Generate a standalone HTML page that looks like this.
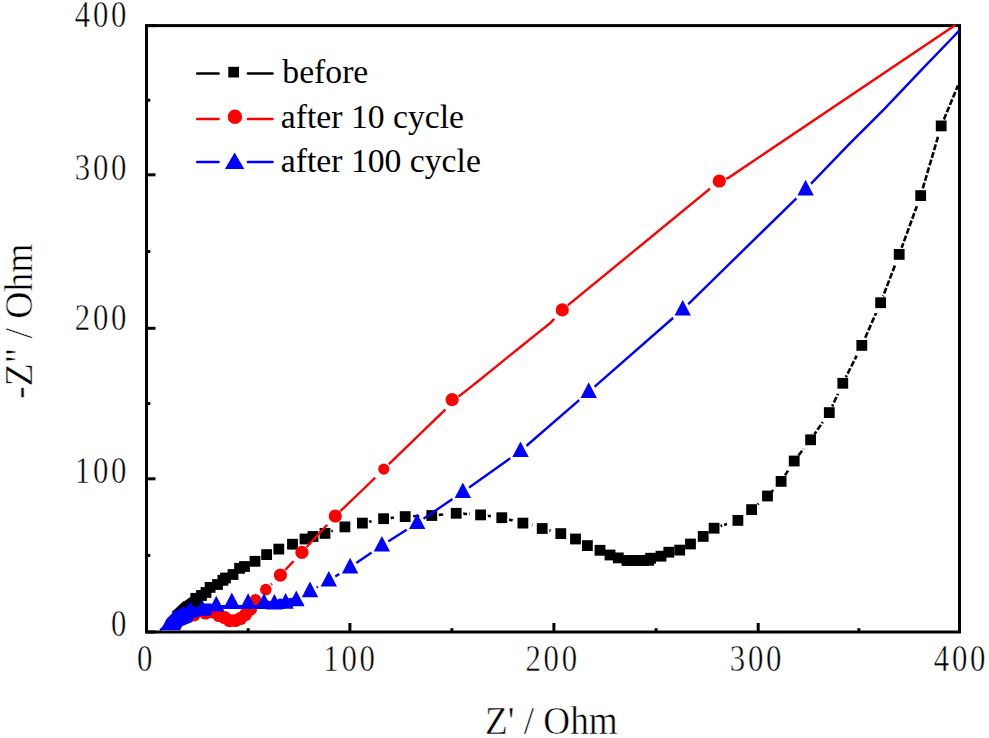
<!DOCTYPE html>
<html><head><meta charset="utf-8"><title>Nyquist plot</title>
<style>html,body{margin:0;padding:0;background:#fff;width:989px;height:738px;overflow:hidden}
svg{display:block}</style></head><body>
<svg width="989" height="738" viewBox="0 0 989 738">
<defs>
<mask id="mk" maskUnits="userSpaceOnUse" x="0" y="0" width="989" height="738">
<rect width="989" height="738" fill="#fff"/>
<circle cx="194.0" cy="599.8" r="9.3" fill="#000"/>
<circle cx="199.5" cy="597.0" r="9.3" fill="#000"/>
<circle cx="204.0" cy="594.0" r="9.3" fill="#000"/>
<circle cx="208.1" cy="588.9" r="9.3" fill="#000"/>
<circle cx="215.5" cy="586.0" r="9.3" fill="#000"/>
<circle cx="220.9" cy="581.8" r="9.3" fill="#000"/>
<circle cx="223.5" cy="579.5" r="9.3" fill="#000"/>
<circle cx="231.0" cy="576.0" r="9.3" fill="#000"/>
<circle cx="237.6" cy="569.8" r="9.3" fill="#000"/>
<circle cx="242.5" cy="568.0" r="9.3" fill="#000"/>
<circle cx="253.0" cy="562.8" r="9.3" fill="#000"/>
<circle cx="264.6" cy="556.1" r="9.3" fill="#000"/>
<circle cx="276.8" cy="550.6" r="9.3" fill="#000"/>
<circle cx="290.5" cy="545.7" r="9.3" fill="#000"/>
<circle cx="303.0" cy="540.5" r="9.3" fill="#000"/>
<circle cx="311.0" cy="538.0" r="9.3" fill="#000"/>
<circle cx="323.0" cy="534.9" r="9.3" fill="#000"/>
<circle cx="342.9" cy="528.4" r="9.3" fill="#000"/>
<circle cx="360.4" cy="524.6" r="9.3" fill="#000"/>
<circle cx="381.6" cy="520.2" r="9.3" fill="#000"/>
<circle cx="403.2" cy="518.1" r="9.3" fill="#000"/>
<circle cx="429.8" cy="517.0" r="9.3" fill="#000"/>
<circle cx="454.2" cy="514.8" r="9.3" fill="#000"/>
<circle cx="478.6" cy="516.4" r="9.3" fill="#000"/>
<circle cx="499.8" cy="519.2" r="9.3" fill="#000"/>
<circle cx="520.9" cy="524.6" r="9.3" fill="#000"/>
<circle cx="540.2" cy="530.0" r="9.3" fill="#000"/>
<circle cx="558.8" cy="535.1" r="9.3" fill="#000"/>
<circle cx="573.5" cy="540.5" r="9.3" fill="#000"/>
<circle cx="585.4" cy="547.1" r="9.3" fill="#000"/>
<circle cx="598.0" cy="551.8" r="9.3" fill="#000"/>
<circle cx="608.0" cy="556.5" r="9.3" fill="#000"/>
<circle cx="616.3" cy="559.4" r="9.3" fill="#000"/>
<circle cx="625.0" cy="562.0" r="9.3" fill="#000"/>
<circle cx="630.5" cy="562.0" r="9.3" fill="#000"/>
<circle cx="636.0" cy="562.0" r="9.3" fill="#000"/>
<circle cx="641.5" cy="562.0" r="9.3" fill="#000"/>
<circle cx="646.7" cy="561.8" r="9.3" fill="#000"/>
<circle cx="648.6" cy="559.7" r="9.3" fill="#000"/>
<circle cx="659.0" cy="557.7" r="9.3" fill="#000"/>
<circle cx="666.8" cy="553.7" r="9.3" fill="#000"/>
<circle cx="677.7" cy="551.6" r="9.3" fill="#000"/>
<circle cx="688.5" cy="545.5" r="9.3" fill="#000"/>
<circle cx="701.2" cy="537.9" r="9.3" fill="#000"/>
<circle cx="712.1" cy="529.7" r="9.3" fill="#000"/>
<circle cx="735.9" cy="521.9" r="9.3" fill="#000"/>
<circle cx="749.6" cy="511.1" r="9.3" fill="#000"/>
<circle cx="765.5" cy="497.5" r="9.3" fill="#000"/>
<circle cx="779.1" cy="482.9" r="9.3" fill="#000"/>
<circle cx="792.2" cy="462.5" r="9.3" fill="#000"/>
<circle cx="808.6" cy="441.3" r="9.3" fill="#000"/>
<circle cx="827.3" cy="414.1" r="9.3" fill="#000"/>
<circle cx="840.8" cy="384.8" r="9.3" fill="#000"/>
<circle cx="859.8" cy="346.9" r="9.3" fill="#000"/>
<circle cx="878.6" cy="304.2" r="9.3" fill="#000"/>
<circle cx="897.2" cy="255.9" r="9.3" fill="#000"/>
<circle cx="918.7" cy="197.1" r="9.3" fill="#000"/>
<circle cx="939.2" cy="127.4" r="9.3" fill="#000"/>
</mask>
<mask id="mr" maskUnits="userSpaceOnUse" x="0" y="0" width="989" height="738">
<rect width="989" height="738" fill="#fff"/>
<circle cx="192.0" cy="616.3" r="9.7" fill="#000"/>
<circle cx="203.5" cy="614.5" r="9.7" fill="#000"/>
<circle cx="211.0" cy="613.5" r="9.7" fill="#000"/>
<circle cx="217.0" cy="617.0" r="9.7" fill="#000"/>
<circle cx="222.5" cy="619.0" r="9.7" fill="#000"/>
<circle cx="227.5" cy="622.2" r="9.7" fill="#000"/>
<circle cx="233.3" cy="622.0" r="9.7" fill="#000"/>
<circle cx="238.5" cy="620.0" r="9.7" fill="#000"/>
<circle cx="243.5" cy="616.0" r="9.7" fill="#000"/>
<circle cx="248.5" cy="610.5" r="9.7" fill="#000"/>
<circle cx="253.5" cy="601.4" r="9.7" fill="#000"/>
<circle cx="263.8" cy="591.1" r="9.7" fill="#000"/>
<circle cx="278.4" cy="576.6" r="9.7" fill="#000"/>
<circle cx="299.9" cy="553.8" r="9.7" fill="#000"/>
<circle cx="333.3" cy="517.5" r="9.7" fill="#000"/>
<circle cx="381.8" cy="470.6" r="9.7" fill="#000"/>
<circle cx="450.1" cy="401.2" r="9.7" fill="#000"/>
<circle cx="560.3" cy="311.4" r="9.7" fill="#000"/>
<circle cx="717.3" cy="182.5" r="9.7" fill="#000"/>
</mask>
<mask id="mb" maskUnits="userSpaceOnUse" x="0" y="0" width="989" height="738">
<rect width="989" height="738" fill="#fff"/>
<circle cx="188.9" cy="612.6" r="10.3" fill="#000"/>
<circle cx="200.4" cy="611.2" r="10.3" fill="#000"/>
<circle cx="214.3" cy="606.9" r="10.3" fill="#000"/>
<circle cx="229.8" cy="603.7" r="10.3" fill="#000"/>
<circle cx="246.1" cy="604.4" r="10.3" fill="#000"/>
<circle cx="262.0" cy="604.4" r="10.3" fill="#000"/>
<circle cx="272.4" cy="605.0" r="10.3" fill="#000"/>
<circle cx="283.6" cy="604.1" r="10.3" fill="#000"/>
<circle cx="294.3" cy="601.6" r="10.3" fill="#000"/>
<circle cx="308.0" cy="592.7" r="10.3" fill="#000"/>
<circle cx="326.8" cy="582.0" r="10.3" fill="#000"/>
<circle cx="348.1" cy="568.8" r="10.3" fill="#000"/>
<circle cx="379.9" cy="547.0" r="10.3" fill="#000"/>
<circle cx="415.2" cy="524.5" r="10.3" fill="#000"/>
<circle cx="460.8" cy="493.5" r="10.3" fill="#000"/>
<circle cx="518.5" cy="452.5" r="10.3" fill="#000"/>
<circle cx="586.7" cy="393.3" r="10.3" fill="#000"/>
<circle cx="680.7" cy="311.0" r="10.3" fill="#000"/>
<circle cx="803.6" cy="190.9" r="10.3" fill="#000"/>
</mask>
</defs>
<rect width="989" height="738" fill="#fff"/>
<rect x="146.5" y="25.6" width="813.0" height="606.4" fill="none" stroke="#000" stroke-width="3"/>
<line x1="146.5" y1="632.0" x2="146.5" y2="623.0" stroke="#000" stroke-width="3"/>
<line x1="349.9" y1="632.0" x2="349.9" y2="623.0" stroke="#000" stroke-width="3"/>
<line x1="553.9" y1="632.0" x2="553.9" y2="623.0" stroke="#000" stroke-width="3"/>
<line x1="758.2" y1="632.0" x2="758.2" y2="623.0" stroke="#000" stroke-width="3"/>
<line x1="959.5" y1="632.0" x2="959.5" y2="623.0" stroke="#000" stroke-width="3"/>
<line x1="248.2" y1="632.0" x2="248.2" y2="628.2" stroke="#000" stroke-width="3"/>
<line x1="451.9" y1="632.0" x2="451.9" y2="628.2" stroke="#000" stroke-width="3"/>
<line x1="656.05" y1="632.0" x2="656.05" y2="628.2" stroke="#000" stroke-width="3"/>
<line x1="858.85" y1="632.0" x2="858.85" y2="628.2" stroke="#000" stroke-width="3"/>
<line x1="146.5" y1="632.0" x2="155.5" y2="632.0" stroke="#000" stroke-width="3"/>
<line x1="146.5" y1="478.8" x2="155.5" y2="478.8" stroke="#000" stroke-width="3"/>
<line x1="146.5" y1="328.3" x2="155.5" y2="328.3" stroke="#000" stroke-width="3"/>
<line x1="146.5" y1="174.8" x2="155.5" y2="174.8" stroke="#000" stroke-width="3"/>
<line x1="146.5" y1="25.6" x2="155.5" y2="25.6" stroke="#000" stroke-width="3"/>
<line x1="146.5" y1="555.4" x2="150.3" y2="555.4" stroke="#000" stroke-width="3"/>
<line x1="146.5" y1="403.55" x2="150.3" y2="403.55" stroke="#000" stroke-width="3"/>
<line x1="146.5" y1="251.55" x2="150.3" y2="251.55" stroke="#000" stroke-width="3"/>
<line x1="146.5" y1="100.2" x2="150.3" y2="100.2" stroke="#000" stroke-width="3"/>
<polyline mask="url(#mk)" points="172.5,612.5 196.0,598.3 201.5,595.5 206.0,592.5 210.1,587.4 217.5,584.5 222.9,580.3 225.5,578.0 233.0,574.5 239.6,568.3 244.5,566.5 255.0,561.3 266.6,554.6 278.8,549.1 292.5,544.2 305.0,539.0 313.0,536.5 325.0,533.4 344.9,526.9 362.4,523.1 383.6,518.7 405.2,516.6 431.8,515.5 456.2,513.3 480.6,514.9 501.8,517.7 522.9,523.1 542.2,528.5 560.8,533.6 575.5,539.0 587.4,545.6 600.0,550.3 610.0,555.0 618.3,557.9 627.0,560.5 632.5,560.5 638.0,560.5 643.5,560.5 648.7,560.3 650.6,558.2 661.0,556.2 668.8,552.2 679.7,550.1 690.5,544.0 703.2,536.4 714.1,528.2 737.9,520.4 751.6,509.6 767.5,496.0 781.1,481.4 794.2,461.0 810.6,439.8 829.3,412.6 842.8,383.3 861.8,345.4 880.6,302.7 899.2,254.4 920.7,195.6 941.2,125.9 958.0,85.4" fill="none" stroke="#000" stroke-width="2.6" stroke-dasharray="6 2"/>
<polygon points="172.5,612.5 174.3,609.7 183.0,601.6 184.6,601.0 190.6,596.7 190.6,593.0 201.0,593.0 203.0,600.0 199.0,609.0 183.0,609.5 176.0,613.5" fill="#000"/>
<rect x="190.6" y="592.9" width="10.8" height="10.8" fill="#000"/>
<rect x="196.1" y="590.1" width="10.8" height="10.8" fill="#000"/>
<rect x="200.6" y="587.1" width="10.8" height="10.8" fill="#000"/>
<rect x="204.7" y="582.0" width="10.8" height="10.8" fill="#000"/>
<rect x="212.1" y="579.1" width="10.8" height="10.8" fill="#000"/>
<rect x="217.5" y="574.9" width="10.8" height="10.8" fill="#000"/>
<rect x="220.1" y="572.6" width="10.8" height="10.8" fill="#000"/>
<rect x="227.6" y="569.1" width="10.8" height="10.8" fill="#000"/>
<rect x="234.2" y="562.9" width="10.8" height="10.8" fill="#000"/>
<rect x="239.1" y="561.1" width="10.8" height="10.8" fill="#000"/>
<rect x="249.6" y="555.9" width="10.8" height="10.8" fill="#000"/>
<rect x="261.2" y="549.2" width="10.8" height="10.8" fill="#000"/>
<rect x="273.4" y="543.7" width="10.8" height="10.8" fill="#000"/>
<rect x="287.1" y="538.8" width="10.8" height="10.8" fill="#000"/>
<rect x="299.6" y="533.6" width="10.8" height="10.8" fill="#000"/>
<rect x="307.6" y="531.1" width="10.8" height="10.8" fill="#000"/>
<rect x="319.6" y="528.0" width="10.8" height="10.8" fill="#000"/>
<rect x="339.5" y="521.5" width="10.8" height="10.8" fill="#000"/>
<rect x="357.0" y="517.7" width="10.8" height="10.8" fill="#000"/>
<rect x="378.2" y="513.3" width="10.8" height="10.8" fill="#000"/>
<rect x="399.8" y="511.2" width="10.8" height="10.8" fill="#000"/>
<rect x="426.4" y="510.1" width="10.8" height="10.8" fill="#000"/>
<rect x="450.8" y="507.9" width="10.8" height="10.8" fill="#000"/>
<rect x="475.2" y="509.5" width="10.8" height="10.8" fill="#000"/>
<rect x="496.4" y="512.3" width="10.8" height="10.8" fill="#000"/>
<rect x="517.5" y="517.7" width="10.8" height="10.8" fill="#000"/>
<rect x="536.8" y="523.1" width="10.8" height="10.8" fill="#000"/>
<rect x="555.4" y="528.2" width="10.8" height="10.8" fill="#000"/>
<rect x="570.1" y="533.6" width="10.8" height="10.8" fill="#000"/>
<rect x="582.0" y="540.2" width="10.8" height="10.8" fill="#000"/>
<rect x="594.6" y="544.9" width="10.8" height="10.8" fill="#000"/>
<rect x="604.6" y="549.6" width="10.8" height="10.8" fill="#000"/>
<rect x="612.9" y="552.5" width="10.8" height="10.8" fill="#000"/>
<rect x="621.6" y="555.1" width="10.8" height="10.8" fill="#000"/>
<rect x="627.1" y="555.1" width="10.8" height="10.8" fill="#000"/>
<rect x="632.6" y="555.1" width="10.8" height="10.8" fill="#000"/>
<rect x="638.1" y="555.1" width="10.8" height="10.8" fill="#000"/>
<rect x="643.3" y="554.9" width="10.8" height="10.8" fill="#000"/>
<rect x="645.2" y="552.8" width="10.8" height="10.8" fill="#000"/>
<rect x="655.6" y="550.8" width="10.8" height="10.8" fill="#000"/>
<rect x="663.4" y="546.8" width="10.8" height="10.8" fill="#000"/>
<rect x="674.3" y="544.7" width="10.8" height="10.8" fill="#000"/>
<rect x="685.1" y="538.6" width="10.8" height="10.8" fill="#000"/>
<rect x="697.8" y="531.0" width="10.8" height="10.8" fill="#000"/>
<rect x="708.7" y="522.8" width="10.8" height="10.8" fill="#000"/>
<rect x="732.5" y="515.0" width="10.8" height="10.8" fill="#000"/>
<rect x="746.2" y="504.2" width="10.8" height="10.8" fill="#000"/>
<rect x="762.1" y="490.6" width="10.8" height="10.8" fill="#000"/>
<rect x="775.7" y="476.0" width="10.8" height="10.8" fill="#000"/>
<rect x="788.8" y="455.6" width="10.8" height="10.8" fill="#000"/>
<rect x="805.2" y="434.4" width="10.8" height="10.8" fill="#000"/>
<rect x="823.9" y="407.2" width="10.8" height="10.8" fill="#000"/>
<rect x="837.4" y="377.9" width="10.8" height="10.8" fill="#000"/>
<rect x="856.4" y="340.0" width="10.8" height="10.8" fill="#000"/>
<rect x="875.2" y="297.3" width="10.8" height="10.8" fill="#000"/>
<rect x="893.8" y="249.0" width="10.8" height="10.8" fill="#000"/>
<rect x="915.3" y="190.2" width="10.8" height="10.8" fill="#000"/>
<rect x="935.8" y="120.5" width="10.8" height="10.8" fill="#000"/>
<polyline mask="url(#mr)" points="192.0,614.0 194.0,614.8 205.5,613.0 213.0,612.0 219.0,615.5 224.5,617.5 229.5,620.7 235.3,620.5 240.5,618.5 245.5,614.5 250.5,609.0 255.5,599.9 265.8,589.6 280.4,575.1 301.9,552.3 335.3,516.0 363.0,489.5 383.8,469.1 418.1,435.9 444.2,410.6 452.1,399.7 458.1,396.9 466.9,390.1 480.5,379.3 494.0,368.4 509.6,355.6 523.2,344.7 536.7,333.9 550.3,323.0 562.3,309.9 719.3,181.0 728.5,177.8 955.4,24.9" fill="none" stroke="#f00" stroke-width="2.4"/>
<circle cx="194.0" cy="614.8" r="6.6" fill="#f00"/>
<circle cx="205.5" cy="613.0" r="6.6" fill="#f00"/>
<circle cx="213.0" cy="612.0" r="6.6" fill="#f00"/>
<circle cx="219.0" cy="615.5" r="6.6" fill="#f00"/>
<circle cx="224.5" cy="617.5" r="6.6" fill="#f00"/>
<circle cx="229.5" cy="620.7" r="6.6" fill="#f00"/>
<circle cx="235.3" cy="620.5" r="6.6" fill="#f00"/>
<circle cx="240.5" cy="618.5" r="6.6" fill="#f00"/>
<circle cx="245.5" cy="614.5" r="6.6" fill="#f00"/>
<circle cx="250.5" cy="609.0" r="6.6" fill="#f00"/>
<circle cx="255.5" cy="599.9" r="5.8" fill="#f00"/>
<circle cx="265.8" cy="589.6" r="5.8" fill="#f00"/>
<circle cx="280.4" cy="575.1" r="6.6" fill="#f00"/>
<circle cx="301.9" cy="552.3" r="6.6" fill="#f00"/>
<circle cx="335.3" cy="516.0" r="6.6" fill="#f00"/>
<circle cx="383.8" cy="469.1" r="5.6" fill="#f00"/>
<circle cx="452.1" cy="399.7" r="6.6" fill="#f00"/>
<circle cx="562.3" cy="309.9" r="6.6" fill="#f00"/>
<circle cx="719.3" cy="181.0" r="6.6" fill="#f00"/>
<polygon points="160.1,630.2 163.8,624.3 166.5,618.9 173.3,612.1 178.0,609.5 183.6,606.5 185.7,608.6 189.0,603.0 196.6,608.0 200.0,604.0 206.0,603.6 211.6,603.6 212.0,609.0 212.0,614.7 205.0,614.7 193.5,618.0 192.3,621.9 186.8,624.3 182.1,626.3 180.1,630.2" fill="#00f"/>
<polygon points="214.0,608.9 216.0,605.0 240.0,605.0 256.0,605.0 262.0,603.5 268.7,600.4 273.0,602.5 280.0,598.3 284.0,600.0 289.7,598.0 296.0,597.5 301.0,600.0 304.0,605.0 290.0,606.6 284.9,606.6 284.9,608.9" fill="#00f"/>
<polyline mask="url(#mb)" points="160.0,630.0 190.9,611.1 202.4,609.7 216.3,605.4 231.8,602.2 248.1,602.9 264.0,602.9 274.4,603.5 285.6,602.6 296.3,600.1 310.0,591.2 328.8,580.5 350.1,567.3 381.9,545.5 417.2,523.0 462.8,492.0 520.5,451.0 588.7,391.8 682.7,309.5 805.6,189.4 848.9,144.3 884.7,108.6 927.2,63.8 950.3,40.0 959.2,30.7" fill="none" stroke="#00f" stroke-width="2.4"/>
<path d="M190.9,601.5 L199.1,617.2 L182.7,617.2 Z" fill="#00f"/>
<path d="M202.4,600.1 L210.6,615.8 L194.2,615.8 Z" fill="#00f"/>
<path d="M216.3,595.8 L224.5,611.5 L208.1,611.5 Z" fill="#00f"/>
<path d="M231.8,592.6 L240.0,608.3 L223.6,608.3 Z" fill="#00f"/>
<path d="M248.1,593.3 L256.3,609.0 L239.9,609.0 Z" fill="#00f"/>
<path d="M264.0,593.3 L272.2,609.0 L255.8,609.0 Z" fill="#00f"/>
<path d="M274.4,593.9 L282.6,609.6 L266.2,609.6 Z" fill="#00f"/>
<path d="M285.6,593.0 L293.8,608.7 L277.4,608.7 Z" fill="#00f"/>
<path d="M296.3,590.5 L304.5,606.2 L288.1,606.2 Z" fill="#00f"/>
<path d="M310.0,581.6 L318.2,597.3 L301.8,597.3 Z" fill="#00f"/>
<path d="M328.8,570.9 L337.0,586.6 L320.6,586.6 Z" fill="#00f"/>
<path d="M350.1,557.7 L358.3,573.4 L341.9,573.4 Z" fill="#00f"/>
<path d="M381.9,535.9 L390.1,551.6 L373.7,551.6 Z" fill="#00f"/>
<path d="M417.2,513.4 L425.4,529.1 L409.0,529.1 Z" fill="#00f"/>
<path d="M462.8,482.4 L471.0,498.1 L454.6,498.1 Z" fill="#00f"/>
<path d="M520.5,441.4 L528.7,457.1 L512.3,457.1 Z" fill="#00f"/>
<path d="M588.7,382.2 L596.9,397.9 L580.5,397.9 Z" fill="#00f"/>
<path d="M682.7,299.9 L690.9,315.6 L674.5,315.6 Z" fill="#00f"/>
<path d="M805.6,179.8 L813.8,195.5 L797.4,195.5 Z" fill="#00f"/>
<line x1="197.3" y1="73.5" x2="218.5" y2="73.5" stroke="#000" stroke-width="2.7" stroke-linecap="round"/>
<line x1="248" y1="73.5" x2="272.5" y2="73.5" stroke="#000" stroke-width="2.7" stroke-linecap="round"/>
<rect x="228.3" y="66.8" width="10.7" height="10.7" fill="#000"/>
<line x1="197.3" y1="119" x2="218.5" y2="119" stroke="#f00" stroke-width="2.7" stroke-linecap="round"/>
<line x1="248" y1="119" x2="272.5" y2="119" stroke="#f00" stroke-width="2.7" stroke-linecap="round"/>
<circle cx="234.9" cy="116.8" r="7.2" fill="#f00"/>
<line x1="197.3" y1="162" x2="218.5" y2="162" stroke="#00f" stroke-width="2.7" stroke-linecap="round"/>
<line x1="248" y1="162" x2="272.5" y2="162" stroke="#00f" stroke-width="2.7" stroke-linecap="round"/>
<path d="M234.6,152.5 L244.3,169 L224.9,169 Z" fill="#00f"/>
<text transform="translate(74.80,26.80) scale(0.82,1)" x="0.00 22.07 44.15" y="0" font-size="37.5" font-family="Liberation Serif, serif" fill="#000" stroke="#fff" stroke-width="0.5">400</text>
<text transform="translate(74.80,180.30) scale(0.82,1)" x="0.00 22.07 44.15" y="0" font-size="37.5" font-family="Liberation Serif, serif" fill="#000" stroke="#fff" stroke-width="0.5">300</text>
<text transform="translate(74.80,330.30) scale(0.82,1)" x="0.00 22.07 44.15" y="0" font-size="37.5" font-family="Liberation Serif, serif" fill="#000" stroke="#fff" stroke-width="0.5">200</text>
<text transform="translate(74.80,483.30) scale(0.82,1)" x="0.00 22.07 44.15" y="0" font-size="37.5" font-family="Liberation Serif, serif" fill="#000" stroke="#fff" stroke-width="0.5">100</text>
<text transform="translate(111.00,636.20) scale(0.82,1)" x="0.00" y="0" font-size="37.5" font-family="Liberation Serif, serif" fill="#000" stroke="#fff" stroke-width="0.5">0</text>
<text transform="translate(137.00,671.00) scale(0.82,1)" x="0.00" y="0" font-size="37.5" font-family="Liberation Serif, serif" fill="#000" stroke="#fff" stroke-width="0.5">0</text>
<text transform="translate(323.30,671.00) scale(0.82,1)" x="0.00 22.07 44.15" y="0" font-size="37.5" font-family="Liberation Serif, serif" fill="#000" stroke="#fff" stroke-width="0.5">100</text>
<text transform="translate(525.50,671.00) scale(0.82,1)" x="0.00 22.07 44.15" y="0" font-size="37.5" font-family="Liberation Serif, serif" fill="#000" stroke="#fff" stroke-width="0.5">200</text>
<text transform="translate(729.80,671.00) scale(0.82,1)" x="0.00 22.07 44.15" y="0" font-size="37.5" font-family="Liberation Serif, serif" fill="#000" stroke="#fff" stroke-width="0.5">300</text>
<text transform="translate(933.80,671.00) scale(0.82,1)" x="0.00 22.07 44.15" y="0" font-size="37.5" font-family="Liberation Serif, serif" fill="#000" stroke="#fff" stroke-width="0.5">400</text>
<text transform="translate(485,733.9) scale(0.93,1)" x="0" y="0" font-size="40" font-family="Liberation Serif, serif" fill="#000" stroke="#fff" stroke-width="0.5">Z' / Ohm</text>
<text transform="translate(31.5,398.9) rotate(-90) scale(0.942,1)" x="0" y="0" font-size="40" font-family="Liberation Serif, serif" fill="#000" stroke="#fff" stroke-width="0.5">-Z" / Ohm</text>
<text transform="translate(282.3,83.3) scale(0.991,1)" x="0" y="0" font-size="34" font-family="Liberation Serif, serif" fill="#000">before</text>
<text transform="translate(280.8,128.0) scale(0.991,1)" x="0" y="0" font-size="34" font-family="Liberation Serif, serif" fill="#000">after 10 cycle</text>
<text transform="translate(280.8,171.6) scale(0.991,1)" x="0" y="0" font-size="34" font-family="Liberation Serif, serif" fill="#000">after 100 cycle</text>
</svg>
</body></html>
